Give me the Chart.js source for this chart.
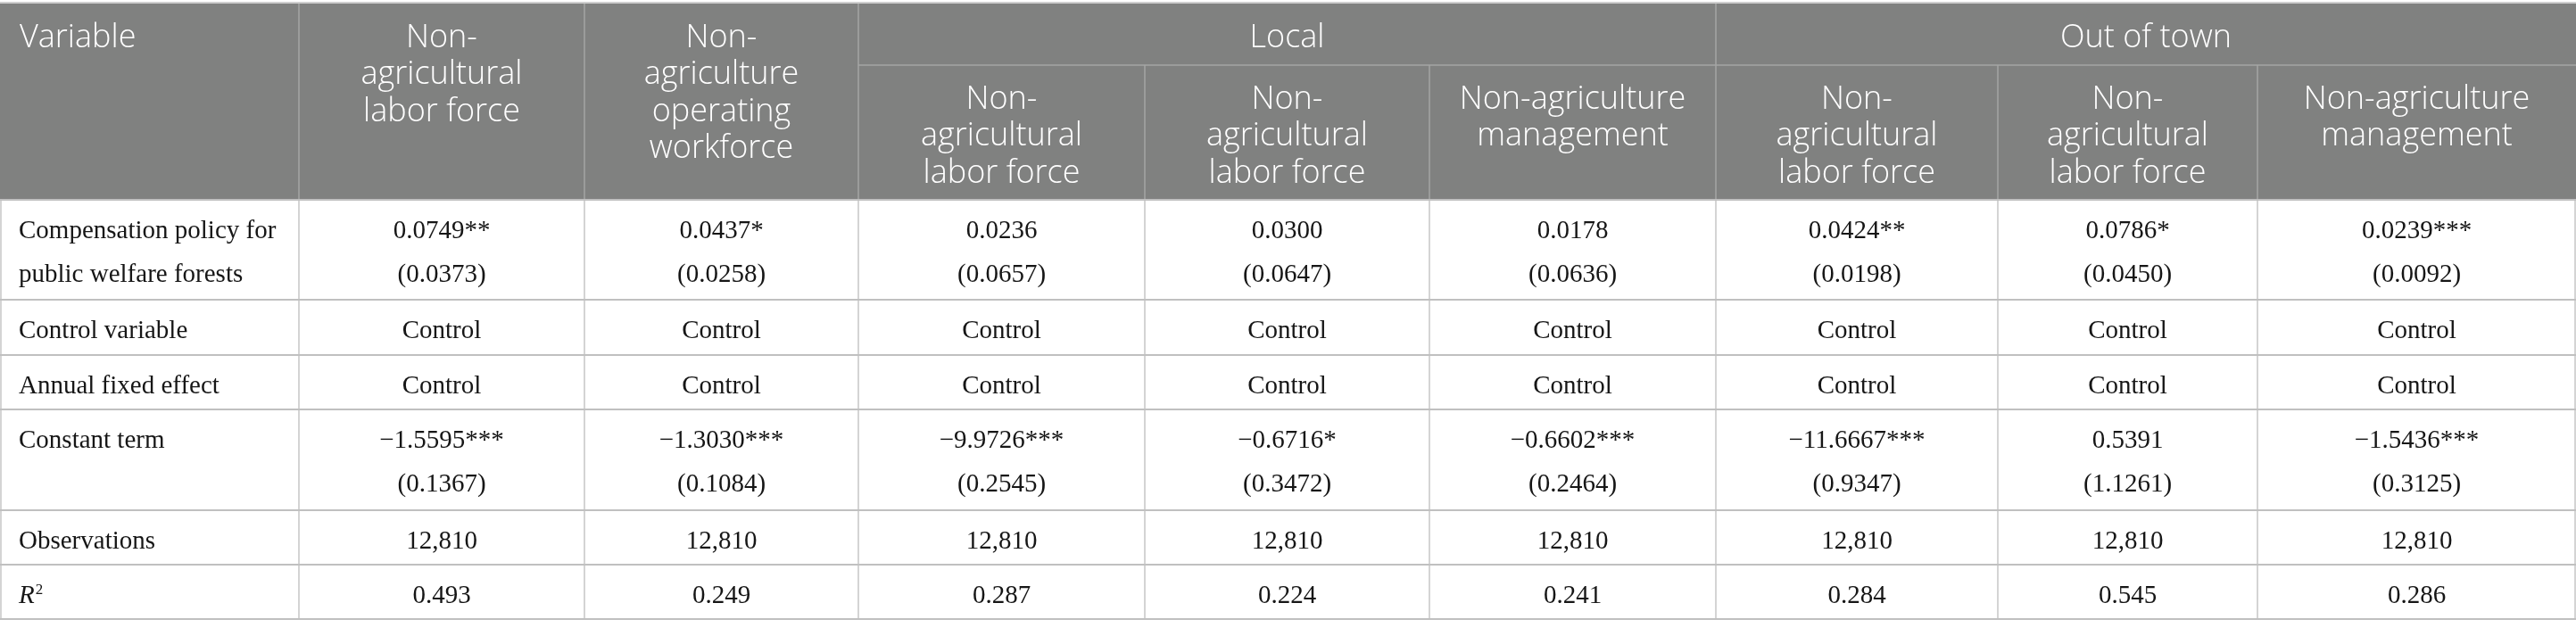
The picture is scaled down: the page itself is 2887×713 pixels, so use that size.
<!DOCTYPE html>
<html lang="en">
<head>
    <meta charset="UTF-8">
    <title>Regression table</title>
    <script src="https://cdn.jsdelivr.net/npm/chart.js"></script>
    <style>
        html, body {
            margin: 0;
            padding: 0;
            background-color: #ffffff;
        }
        .chart-container {
            position: relative;
            width: 2887px;
            height: 713px;
        }
    </style>
</head>
<body>
    <div class="chart-container">
        <canvas id="myChart"></canvas>
    </div>

    <script>
        // Table content
        const cornerLabel = 'Variable';
        const groupHeaders = ['Local', 'Out of town'];
        const columnHeaders = [
            ['Non-', 'agricultural', 'labor force'],
            ['Non-', 'agriculture', 'operating', 'workforce'],
            ['Non-', 'agricultural', 'labor force'],
            ['Non-', 'agricultural', 'labor force'],
            ['Non-agriculture', 'management'],
            ['Non-', 'agricultural', 'labor force'],
            ['Non-', 'agricultural', 'labor force'],
            ['Non-agriculture', 'management']
        ];
        const rowLabels = [
            ['Compensation policy for', 'public welfare forests'],
            ['Control variable'],
            ['Annual fixed effect'],
            ['Constant term'],
            ['Observations'],
            ['R2']
        ];
        const policyCoef = ['0.0749**', '0.0437*', '0.0236', '0.0300', '0.0178', '0.0424**', '0.0786*', '0.0239***'];
        const policySE = ['(0.0373)', '(0.0258)', '(0.0657)', '(0.0647)', '(0.0636)', '(0.0198)', '(0.0450)', '(0.0092)'];
        const controlVariable = ['Control', 'Control', 'Control', 'Control', 'Control', 'Control', 'Control', 'Control'];
        const annualEffect = ['Control', 'Control', 'Control', 'Control', 'Control', 'Control', 'Control', 'Control'];
        const constCoef = ['\u22121.5595***', '\u22121.3030***', '\u22129.9726***', '\u22120.6716*', '\u22120.6602***', '\u221211.6667***', '0.5391', '\u22121.5436***'];
        const constSE = ['(0.1367)', '(0.1084)', '(0.2545)', '(0.3472)', '(0.2464)', '(0.9347)', '(1.1261)', '(0.3125)'];
        const observations = ['12,810', '12,810', '12,810', '12,810', '12,810', '12,810', '12,810', '12,810'];
        const rSquared = ['0.493', '0.249', '0.287', '0.224', '0.241', '0.284', '0.545', '0.286'];

        // Layout in table units (mapped through the chart scales)
        const colEdges = [0, 335, 655, 962, 1283, 1602, 1923, 2239, 2530, 2887];
        const headEdges = [4, 73, 224];
        const rowEdges = [224, 336, 398, 459, 572, 633, 694];

        const headFont = '300 36px "Open Sans", "Noto Sans", sans-serif';
        const bodyFont = '29px "Liberation Serif", "DejaVu Serif", serif';

        const tablePlugin = {
            id: 'tableDraw',
            afterDraw(chart) {
                const ctx = chart.ctx;
                const xs = chart.scales.x;
                const ys = chart.scales.y;
                const X = v => xs.getPixelForValue(v);
                const Y = v => ys.getPixelForValue(v);
                const left = X(colEdges[0]);
                const right = X(colEdges[colEdges.length - 1]);

                ctx.save();

                // header background
                ctx.fillStyle = '#808180';
                ctx.fillRect(left, Y(headEdges[0]), right - left, Y(headEdges[2]) - Y(headEdges[0]));

                // top border
                ctx.fillStyle = '#cfcfcf';
                ctx.fillRect(left, Y(headEdges[0]) - 2, right - left, 2);

                // header lines
                ctx.strokeStyle = '#a4a5a4';
                ctx.lineWidth = 1.5;
                ctx.beginPath();
                [1, 2, 3, 6].forEach(i => {
                    ctx.moveTo(X(colEdges[i]), Y(headEdges[0]));
                    ctx.lineTo(X(colEdges[i]), Y(headEdges[2]));
                });
                [4, 5, 7, 8].forEach(i => {
                    ctx.moveTo(X(colEdges[i]), Y(headEdges[1]));
                    ctx.lineTo(X(colEdges[i]), Y(headEdges[2]));
                });
                ctx.moveTo(X(colEdges[3]), Y(headEdges[1]));
                ctx.lineTo(right, Y(headEdges[1]));
                ctx.stroke();

                // body vertical lines
                ctx.strokeStyle = '#c6c6c6';
                ctx.lineWidth = 1.5;
                ctx.beginPath();
                colEdges.forEach((c, i) => {
                    let x = X(c);
                    if (i === 0) x += 1;
                    if (i === colEdges.length - 1) x -= 1;
                    ctx.moveTo(x, Y(rowEdges[0]));
                    ctx.lineTo(x, Y(rowEdges[rowEdges.length - 1]));
                });
                ctx.stroke();

                // body horizontal lines
                ctx.strokeStyle = '#c0c0c0';
                ctx.lineWidth = 2;
                ctx.beginPath();
                rowEdges.forEach(r => {
                    ctx.moveTo(left, Y(r));
                    ctx.lineTo(right, Y(r));
                });
                ctx.stroke();

                // header text
                ctx.fillStyle = '#ffffff';
                ctx.font = headFont;
                ctx.textBaseline = 'alphabetic';
                ctx.textAlign = 'left';
                ctx.fillText(cornerLabel, X(colEdges[0] + 22), Y(headEdges[0] + 49));
                ctx.textAlign = 'center';
                ctx.fillText(groupHeaders[0], (X(colEdges[3]) + X(colEdges[6])) / 2, Y(headEdges[0] + 49));
                ctx.fillText(groupHeaders[1], (X(colEdges[6]) + X(colEdges[9])) / 2, Y(headEdges[0] + 49));
                columnHeaders.forEach((lines, i) => {
                    const cx = (X(colEdges[i + 1]) + X(colEdges[i + 2])) / 2;
                    const top = i < 2 ? headEdges[0] : headEdges[1];
                    lines.forEach((t, k) => {
                        ctx.fillText(t, cx, Y(top + 49 + k * 41.3));
                    });
                });

                // body text
                const cellData = [
                    [policyCoef, policySE],
                    [controlVariable],
                    [annualEffect],
                    [constCoef, constSE],
                    [observations],
                    [rSquared]
                ];
                ctx.fillStyle = '#161616';
                ctx.font = bodyFont;
                rowLabels.forEach((lines, r) => {
                    const top = rowEdges[r];
                    ctx.textAlign = 'left';
                    lines.forEach((t, k) => {
                        const by = Y(top + 42.5 + k * 49);
                        if (t === 'R2') {
                            ctx.font = 'italic ' + bodyFont;
                            ctx.fillText('R', X(21), by);
                            const w = ctx.measureText('R').width;
                            ctx.font = '17px "Liberation Serif", serif';
                            ctx.fillText('2', X(21) + w + 1, by - 10);
                            ctx.font = bodyFont;
                        } else {
                            ctx.fillText(t, X(21), by);
                        }
                    });
                    ctx.textAlign = 'center';
                    cellData[r].forEach((series, k) => {
                        series.forEach((t, c) => {
                            const cx = (X(colEdges[c + 1]) + X(colEdges[c + 2])) / 2;
                            ctx.fillText(t, cx, Y(top + 42.5 + k * 49));
                        });
                    });
                });

                ctx.restore();
            }
        };

        const ctx = document.getElementById('myChart').getContext('2d');
        new Chart(ctx, {
            type: 'scatter',
            data: { datasets: [] },
            options: {
                responsive: true,
                maintainAspectRatio: false,
                animation: false,
                layout: { padding: 0 },
                scales: {
                    x: { type: 'linear', min: 0, max: 2887, display: false },
                    y: { type: 'linear', min: 0, max: 713, reverse: true, display: false }
                },
                plugins: {
                    legend: { display: false },
                    tooltip: { enabled: false }
                }
            },
            plugins: [tablePlugin]
        });
    </script>
</body>
</html>
